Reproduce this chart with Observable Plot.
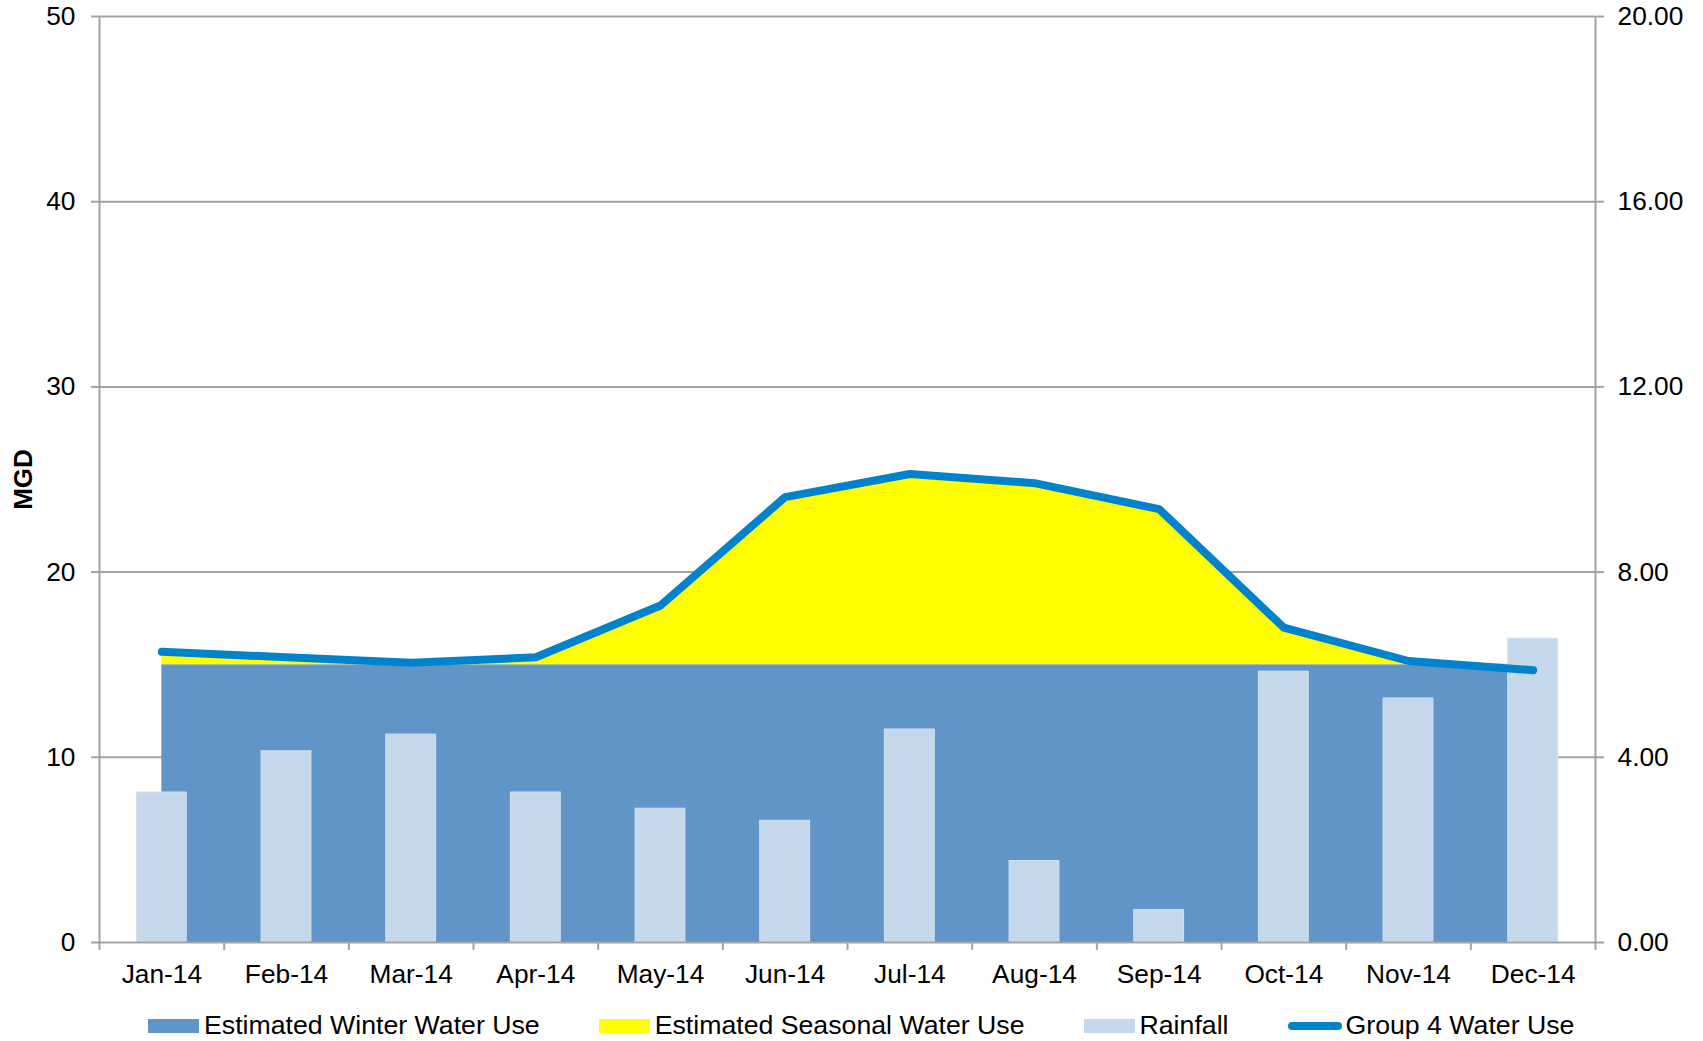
<!DOCTYPE html>
<html>
<head>
<meta charset="utf-8">
<script src="https://cdn.jsdelivr.net/npm/d3@7"></script>
<script src="https://cdn.jsdelivr.net/npm/@observablehq/plot@0.6"></script>
<style>
  html, body { margin: 0; padding: 0; background: #fff; }
  body { width: 1703px; height: 1041px; overflow: hidden; font-family: "Liberation Sans", Arial, sans-serif; }
  #legend { display: flex; align-items: center; height: 41px; padding-left: 148px; font-size: 26.7px; color: #000; position: relative; top: 5px; }
  .item { display: flex; align-items: center; margin-right: 59px; }
  .sw { width: 51px; height: 14px; margin-right: 5px; }
  .ln { width: 54px; height: 8px; border-radius: 4px; margin-right: 4px; }
</style>
</head>
<body>
<div id="chart"></div>
<div id="legend"></div>
<script>
const months = ["Jan-14","Feb-14","Mar-14","Apr-14","May-14","Jun-14","Jul-14","Aug-14","Sep-14","Oct-14","Nov-14","Dec-14"];
const winterUse = [15, 15, 15, 15, 15, 15, 15, 15, 15, 15, 15, 15];
const seasonalUse = [0.7, 0.4, 0.1, 0.4, 3.2, 9.0, 10.3, 9.8, 8.4, 2.0, 0.2, 0];
const group4Use = [15.7, 15.4, 15.1, 15.4, 18.2, 24.05, 25.3, 24.8, 23.4, 17.0, 15.2, 14.7];
const rainfall = [3.24, 4.13, 4.49, 3.24, 2.89, 2.63, 4.60, 1.76, 0.70, 5.85, 5.27, 6.56];
const leftTicks = [0, 10, 20, 30, 40, 50];
const rightTicks = [0, 4, 8, 12, 16, 20];
const rightMax = 20, leftMax = 50;
const ratio = leftMax / rightMax;

const data = months.map((m, i) => ({
  i, month: m, winter: winterUse[i], seasonal: seasonalUse[i], group4: group4Use[i], rain: rainfall[i]
}));

const gridCol = "#a3a3a3";
const fs = 26.3;

const chart = Plot.plot({
  width: 1703,
  height: 1000,
  marginTop: 16,
  marginLeft: 99,
  marginRight: 108,
  marginBottom: 58,
  style: { fontFamily: "'Liberation Sans', Arial, sans-serif", fontSize: fs + "px", color: "#000", background: "#fff" },
  x: { type: "linear", domain: [-0.5, months.length - 0.5] },
  y: { domain: [0, leftMax] },
  marks: [
    Plot.ruleY(leftTicks.slice(1), { stroke: gridCol, strokeWidth: 2 }),
    Plot.areaY(data, { x: "i", y1: 0, y2: "winter", fill: "#6195C8", curve: "linear" }),
    Plot.areaY(data, { x: "i", y1: "winter", y2: d => d.winter + d.seasonal, fill: "#FFFF00", curve: "linear" }),
    Plot.rectY(data, { x1: d => d.i - 0.2, x2: d => d.i + 0.2, y1: 0, y2: d => d.rain * ratio, fill: "#C5D7EB", stroke: "#D3E1F0", strokeWidth: 1 }),
    Plot.ruleY([0], { stroke: gridCol, strokeWidth: 2 }),
    Plot.ruleX([-0.5, months.length - 0.5], { stroke: gridCol, strokeWidth: 2 }),
    Plot.lineY(data, { x: "i", y: "group4", stroke: "#0083CC", strokeWidth: 8, strokeLinecap: "round", strokeLinejoin: "miter", curve: "linear" }),
    Plot.axisY({ ticks: leftTicks, tickSize: 8, tickPadding: 16, stroke: gridCol, strokeWidth: 2, fill: "#000", label: null, tickFormat: d => String(d) }),
    Plot.axisY({ anchor: "right", ticks: rightTicks.map(v => v * ratio), tickSize: 8, tickPadding: 14, stroke: gridCol, strokeWidth: 2, fill: "#000", label: null, tickFormat: v => (v / ratio).toFixed(2) }),
    Plot.axisX({ ticks: d3.range(months.length + 1).map(k => k - 0.5), tickSize: 8, stroke: gridCol, strokeWidth: 2, tickFormat: () => "", label: null }),
    Plot.axisX({ ticks: d3.range(months.length), tickSize: 0, tickPadding: 22, fill: "#000", tickFormat: k => months[k], label: null }),
    Plot.text(["MGD"], { frameAnchor: "left", textAnchor: "middle", dx: -76, rotate: -90, fontWeight: "bold", fontSize: 26, fill: "#000" })
  ]
});
document.getElementById("chart").appendChild(chart);

const legendItems = [
  { label: "Estimated Winter Water Use", type: "sw", color: "#6195C8" },
  { label: "Estimated Seasonal Water Use", type: "sw", color: "#FFFF00" },
  { label: "Rainfall", type: "sw", color: "#C5D7EB" },
  { label: "Group 4 Water Use", type: "ln", color: "#0083CC" }
];
const lg = document.getElementById("legend");
for (const it of legendItems) {
  const d = document.createElement("div");
  d.className = "item";
  const s = document.createElement("div");
  s.className = it.type;
  s.style.background = it.color;
  const t = document.createElement("span");
  t.textContent = it.label;
  d.appendChild(s); d.appendChild(t);
  lg.appendChild(d);
}
</script>
</body>
</html>
